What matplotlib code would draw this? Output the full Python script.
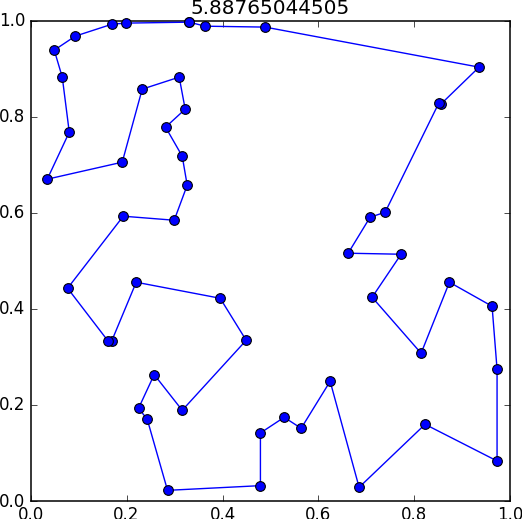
import matplotlib
matplotlib.use("Agg")
import matplotlib.pyplot as plt
from matplotlib.transforms import ScaledTranslation

# tour through the cities, closed at the end
x = [0.3306, 0.3639, 0.4889, 0.9347, 0.8549, 0.8507, 0.7389, 0.7076, 0.6618, 0.7722,
     0.7118, 0.8139, 0.8729, 0.9618, 0.9722, 0.9722, 0.8222, 0.6847, 0.6243, 0.5639,
     0.5285, 0.4790, 0.4790, 0.2854, 0.2431, 0.2250, 0.2576, 0.3160, 0.4493, 0.3951,
     0.2201, 0.1688, 0.1618, 0.0771, 0.1931, 0.2993, 0.3264, 0.3160, 0.2813, 0.3222,
     0.3097, 0.2326, 0.1910, 0.0347, 0.0806, 0.0660, 0.0493, 0.0931, 0.1701, 0.1993,
     0.3306]
y = [0.9976, 0.9892, 0.9873, 0.9039, 0.8267, 0.8289, 0.6017, 0.5914, 0.5164, 0.5143,
     0.4247, 0.3081, 0.4560, 0.4060, 0.2747, 0.0838, 0.1601, 0.0289, 0.2497, 0.1518,
     0.1747, 0.1421, 0.0324, 0.0226, 0.1706, 0.1935, 0.2636, 0.1893, 0.3351, 0.4226,
     0.4560, 0.3331, 0.3331, 0.4435, 0.5935, 0.5851, 0.6581, 0.7185, 0.7789, 0.8164,
     0.8831, 0.8581, 0.7060, 0.6706, 0.7685, 0.8831, 0.9393, 0.9685, 0.9935, 0.9956,
     0.9976]
title = "5.88765044505"
ticks = [0.0, 0.2, 0.4, 0.6, 0.8, 1.0]

fig = plt.figure(figsize=(5.22, 5.19), dpi=100)
ax = fig.add_axes([30.6 / 522, (519 - 501.2) / 519, 479.8 / 522, 480.2 / 519])

ax.plot(x, y, "-o", color="#0000ff", lw=1.0, ms=7, mec="black", mew=0.8, clip_on=False, zorder=3)

ax.set_xlim(0, 1)
ax.set_ylim(0, 1)
ax.set_xticks(ticks)
ax.set_yticks(ticks)
ax.tick_params(direction="in", top=True, right=True, length=4, width=0.5, labelsize=12)
ax.tick_params(axis="x", pad=3.5)
ax.tick_params(axis="y", pad=4)
for s in ax.spines.values():
    s.set_linewidth(1.1)
ax.set_title(title, fontsize=14.4, pad=5)

# y labels sit a touch above their ticks
up = ScaledTranslation(0, 1.2 / 72, fig.dpi_scale_trans)
for lab in ax.get_yticklabels():
    lab.set_transform(lab.get_transform() + up)

fig.savefig("out.png", dpi=100)
